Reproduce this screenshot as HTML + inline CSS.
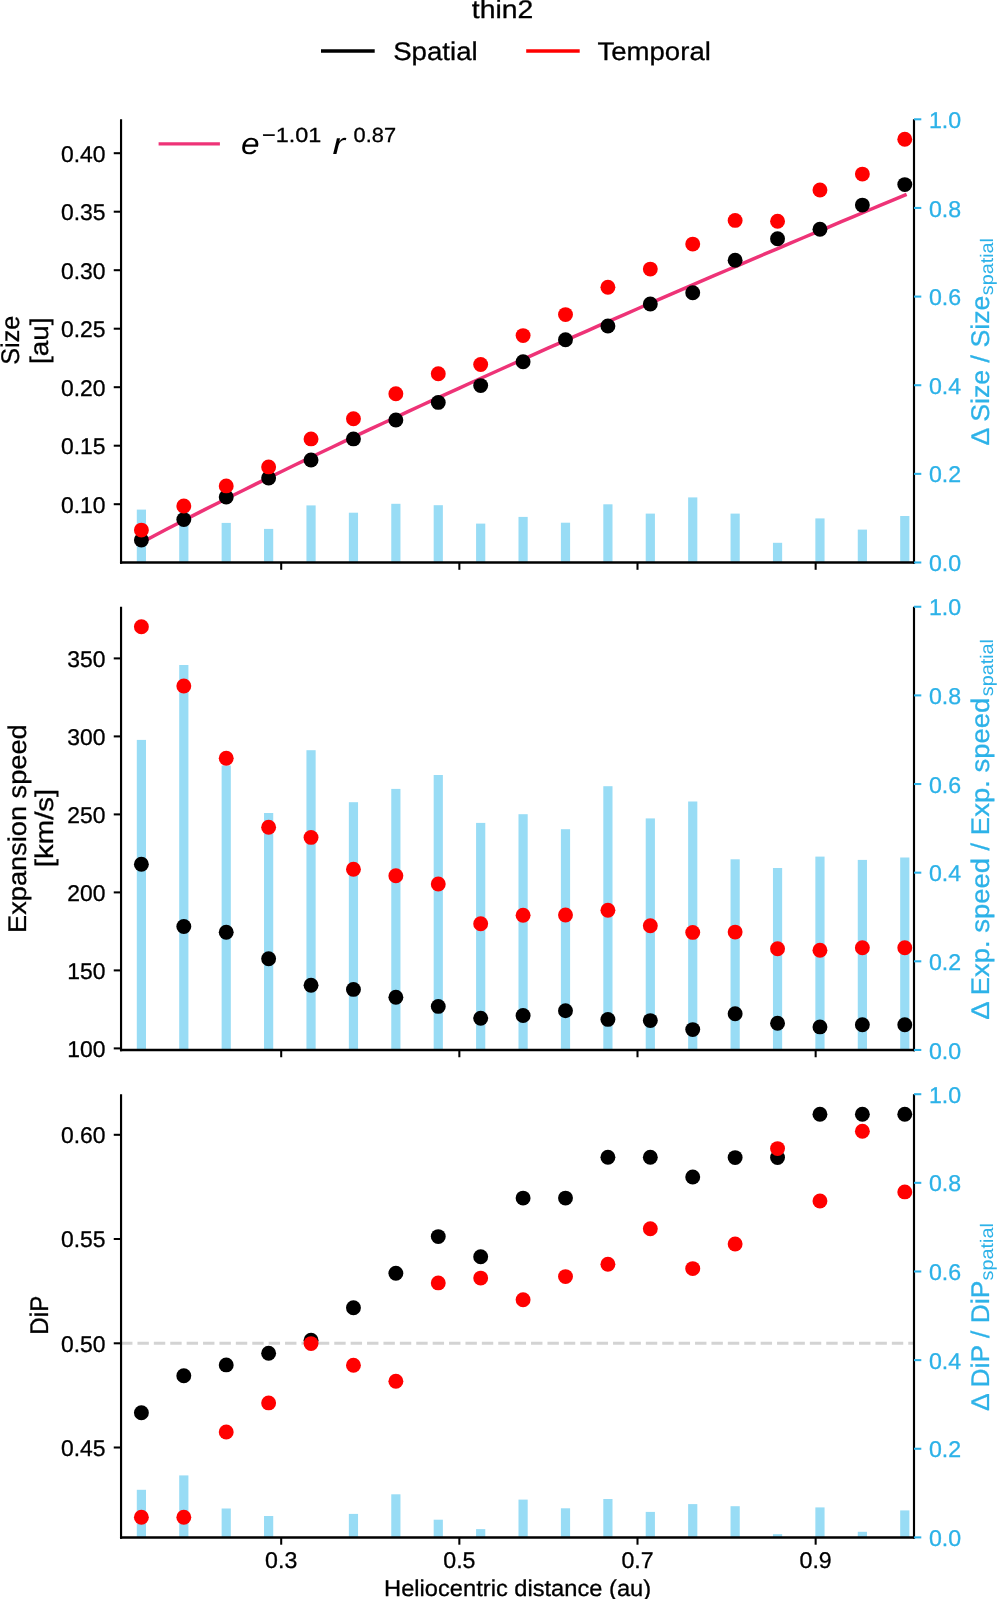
<!DOCTYPE html>
<html lang="en"><head><meta charset="utf-8"><title>thin2</title>
<style>
html,body{margin:0;padding:0;background:#fff;}
body{width:997px;height:1599px;overflow:hidden;}
svg{display:block;will-change:transform;}
text{font-family:"Liberation Sans",sans-serif;text-rendering:geometricPrecision;}
.tk{font-size:22.80px;fill:#000;stroke:#000;stroke-width:0.3px;}
.tkc{font-size:22.80px;fill:#2db2e8;stroke:#2db2e8;stroke-width:0.3px;}
.lab{font-size:25.50px;fill:#000;stroke:#000;stroke-width:0.3px;}
.labc{font-size:25.50px;fill:#2db2e8;stroke:#2db2e8;stroke-width:0.3px;}
</style></head><body>
<svg width="997" height="1599" viewBox="0 0 997 1599">
<rect x="0" y="0" width="997" height="1599" fill="#ffffff"/>
<g id="header">
<text class="lab" x="502.6" y="18.3" text-anchor="middle" textLength="61.5" lengthAdjust="spacingAndGlyphs">thin2</text>
<line x1="321.0" y1="51.05" x2="374.7" y2="51.05" stroke="#000" stroke-width="3.6"/>
<text class="lab" x="393.2" y="59.8" textLength="84.5" lengthAdjust="spacingAndGlyphs">Spatial</text>
<line x1="526.2" y1="51.05" x2="579.7" y2="51.05" stroke="#ff0000" stroke-width="3.6"/>
<text class="lab" x="597.4" y="59.8" textLength="113.5" lengthAdjust="spacingAndGlyphs">Temporal</text>
</g>
<g id="panel1">
<g fill="#98dcf5">
<rect x="136.80" y="509.60" width="9.20" height="52.90"/>
<rect x="179.21" y="503.00" width="9.20" height="59.50"/>
<rect x="221.62" y="522.90" width="9.20" height="39.60"/>
<rect x="264.03" y="528.90" width="9.20" height="33.60"/>
<rect x="306.44" y="505.40" width="9.20" height="57.10"/>
<rect x="348.85" y="512.70" width="9.20" height="49.80"/>
<rect x="391.26" y="503.80" width="9.20" height="58.70"/>
<rect x="433.67" y="505.20" width="9.20" height="57.30"/>
<rect x="476.08" y="523.60" width="9.20" height="38.90"/>
<rect x="518.49" y="516.90" width="9.20" height="45.60"/>
<rect x="560.90" y="522.70" width="9.20" height="39.80"/>
<rect x="603.31" y="504.30" width="9.20" height="58.20"/>
<rect x="645.72" y="513.60" width="9.20" height="48.90"/>
<rect x="688.13" y="497.40" width="9.20" height="65.10"/>
<rect x="730.54" y="513.60" width="9.20" height="48.90"/>
<rect x="772.95" y="542.80" width="9.20" height="19.70"/>
<rect x="815.36" y="518.40" width="9.20" height="44.10"/>
<rect x="857.77" y="529.60" width="9.20" height="32.90"/>
<rect x="900.18" y="516.00" width="9.20" height="46.50"/>
</g>
<polyline fill="none" stroke="#ee3377" stroke-width="3.5" stroke-linecap="square" points="141.04,542.80 153.77,536.02 166.50,529.32 179.24,522.70 191.97,516.14 204.70,509.64 217.44,503.20 230.17,496.80 242.90,490.46 255.63,484.17 268.37,477.91 281.10,471.70 293.83,465.52 306.57,459.39 319.30,453.28 332.03,447.21 344.76,441.17 357.50,435.16 370.23,429.18 382.96,423.23 395.70,417.30 408.43,411.40 421.16,405.53 433.89,399.68 446.63,393.85 459.36,388.04 472.09,382.26 484.83,376.49 497.56,370.75 510.29,365.02 523.02,359.32 535.76,353.63 548.49,347.96 561.22,342.31 573.96,336.68 586.69,331.06 599.42,325.46 612.15,319.87 624.89,314.30 637.62,308.75 650.35,303.21 663.09,297.68 675.82,292.17 688.55,286.67 701.28,281.19 714.02,275.72 726.75,270.26 739.48,264.81 752.22,259.38 764.95,253.96 777.68,248.55 790.41,243.15 803.15,237.76 815.88,232.39 828.61,227.02 841.35,221.67 854.08,216.33 866.81,211.00 879.54,205.68 892.28,200.37 905.01,195.06"/>
<g fill="#000000">
<circle cx="141.40" cy="540.00" r="7.45"/>
<circle cx="183.81" cy="519.60" r="7.45"/>
<circle cx="226.22" cy="497.00" r="7.45"/>
<circle cx="268.63" cy="478.00" r="7.45"/>
<circle cx="311.04" cy="460.00" r="7.45"/>
<circle cx="353.45" cy="438.90" r="7.45"/>
<circle cx="395.86" cy="420.00" r="7.45"/>
<circle cx="438.27" cy="402.40" r="7.45"/>
<circle cx="480.68" cy="385.60" r="7.45"/>
<circle cx="523.09" cy="361.80" r="7.45"/>
<circle cx="565.50" cy="339.80" r="7.45"/>
<circle cx="607.91" cy="326.00" r="7.45"/>
<circle cx="650.32" cy="304.00" r="7.45"/>
<circle cx="692.73" cy="292.80" r="7.45"/>
<circle cx="735.14" cy="260.20" r="7.45"/>
<circle cx="777.55" cy="238.80" r="7.45"/>
<circle cx="819.96" cy="229.20" r="7.45"/>
<circle cx="862.37" cy="205.10" r="7.45"/>
<circle cx="904.78" cy="184.60" r="7.45"/>
</g>
<g fill="#ff0000">
<circle cx="141.40" cy="530.10" r="7.45"/>
<circle cx="183.81" cy="506.00" r="7.45"/>
<circle cx="226.22" cy="485.90" r="7.45"/>
<circle cx="268.63" cy="466.90" r="7.45"/>
<circle cx="311.04" cy="438.90" r="7.45"/>
<circle cx="353.45" cy="418.80" r="7.45"/>
<circle cx="395.86" cy="393.80" r="7.45"/>
<circle cx="438.27" cy="373.80" r="7.45"/>
<circle cx="480.68" cy="364.50" r="7.45"/>
<circle cx="523.09" cy="335.60" r="7.45"/>
<circle cx="565.50" cy="314.60" r="7.45"/>
<circle cx="607.91" cy="287.20" r="7.45"/>
<circle cx="650.32" cy="269.10" r="7.45"/>
<circle cx="692.73" cy="244.10" r="7.45"/>
<circle cx="735.14" cy="220.40" r="7.45"/>
<circle cx="777.55" cy="221.30" r="7.45"/>
<circle cx="819.96" cy="190.00" r="7.45"/>
<circle cx="862.37" cy="174.10" r="7.45"/>
<circle cx="904.78" cy="139.20" r="7.45"/>
</g>
<g stroke="#000" stroke-width="2.05">
<line x1="113.75" y1="153.20" x2="121.05" y2="153.20"/>
<line x1="113.75" y1="211.70" x2="121.05" y2="211.70"/>
<line x1="113.75" y1="270.20" x2="121.05" y2="270.20"/>
<line x1="113.75" y1="328.70" x2="121.05" y2="328.70"/>
<line x1="113.75" y1="387.20" x2="121.05" y2="387.20"/>
<line x1="113.75" y1="445.70" x2="121.05" y2="445.70"/>
<line x1="113.75" y1="504.20" x2="121.05" y2="504.20"/>
<line x1="281.20" y1="562.50" x2="281.20" y2="569.80"/>
<line x1="459.35" y1="562.50" x2="459.35" y2="569.80"/>
<line x1="637.50" y1="562.50" x2="637.50" y2="569.80"/>
<line x1="815.65" y1="562.50" x2="815.65" y2="569.80"/>
</g>
<path d="M121.05 119.30 V563.75 M914.00 119.30 V563.75" fill="none" stroke="#000" stroke-width="2.15" stroke-linecap="butt"/>
<path d="M119.97 562.50 H915.08" fill="none" stroke="#000" stroke-width="2.5" stroke-linecap="butt"/>
<g stroke="#2db2e8" stroke-width="2.05">
<line x1="914.00" y1="562.50" x2="921.30" y2="562.50"/>
<line x1="914.00" y1="473.86" x2="921.30" y2="473.86"/>
<line x1="914.00" y1="385.22" x2="921.30" y2="385.22"/>
<line x1="914.00" y1="296.58" x2="921.30" y2="296.58"/>
<line x1="914.00" y1="207.94" x2="921.30" y2="207.94"/>
<line x1="914.00" y1="119.30" x2="921.30" y2="119.30"/>
</g>
<text class="tk" x="105.50" y="161.50" text-anchor="end" textLength="44.6" lengthAdjust="spacingAndGlyphs">0.40</text>
<text class="tk" x="105.50" y="220.00" text-anchor="end" textLength="44.6" lengthAdjust="spacingAndGlyphs">0.35</text>
<text class="tk" x="105.50" y="278.50" text-anchor="end" textLength="44.6" lengthAdjust="spacingAndGlyphs">0.30</text>
<text class="tk" x="105.50" y="337.00" text-anchor="end" textLength="44.6" lengthAdjust="spacingAndGlyphs">0.25</text>
<text class="tk" x="105.50" y="395.50" text-anchor="end" textLength="44.6" lengthAdjust="spacingAndGlyphs">0.20</text>
<text class="tk" x="105.50" y="454.00" text-anchor="end" textLength="44.6" lengthAdjust="spacingAndGlyphs">0.15</text>
<text class="tk" x="105.50" y="512.50" text-anchor="end" textLength="44.6" lengthAdjust="spacingAndGlyphs">0.10</text>
<text class="tkc" x="928.90" y="571.10" textLength="32.2" lengthAdjust="spacingAndGlyphs">0.0</text>
<text class="tkc" x="928.90" y="482.46" textLength="32.2" lengthAdjust="spacingAndGlyphs">0.2</text>
<text class="tkc" x="928.90" y="393.82" textLength="32.2" lengthAdjust="spacingAndGlyphs">0.4</text>
<text class="tkc" x="928.90" y="305.18" textLength="32.2" lengthAdjust="spacingAndGlyphs">0.6</text>
<text class="tkc" x="928.90" y="216.54" textLength="32.2" lengthAdjust="spacingAndGlyphs">0.8</text>
<text class="tkc" x="928.90" y="127.90" textLength="32.2" lengthAdjust="spacingAndGlyphs">1.0</text>
</g>
<g id="panel2">
<g fill="#98dcf5">
<rect x="136.80" y="739.90" width="9.20" height="310.05"/>
<rect x="179.21" y="665.00" width="9.20" height="384.95"/>
<rect x="221.62" y="765.50" width="9.20" height="284.45"/>
<rect x="264.03" y="813.00" width="9.20" height="236.95"/>
<rect x="306.44" y="750.20" width="9.20" height="299.75"/>
<rect x="348.85" y="802.20" width="9.20" height="247.75"/>
<rect x="391.26" y="788.90" width="9.20" height="261.05"/>
<rect x="433.67" y="775.00" width="9.20" height="274.95"/>
<rect x="476.08" y="822.90" width="9.20" height="227.05"/>
<rect x="518.49" y="814.20" width="9.20" height="235.75"/>
<rect x="560.90" y="829.20" width="9.20" height="220.75"/>
<rect x="603.31" y="786.20" width="9.20" height="263.75"/>
<rect x="645.72" y="818.40" width="9.20" height="231.55"/>
<rect x="688.13" y="801.50" width="9.20" height="248.45"/>
<rect x="730.54" y="859.30" width="9.20" height="190.65"/>
<rect x="772.95" y="868.00" width="9.20" height="181.95"/>
<rect x="815.36" y="856.60" width="9.20" height="193.35"/>
<rect x="857.77" y="859.90" width="9.20" height="190.05"/>
<rect x="900.18" y="857.50" width="9.20" height="192.45"/>
</g>
<g fill="#000000">
<circle cx="141.40" cy="864.20" r="7.45"/>
<circle cx="183.81" cy="926.50" r="7.45"/>
<circle cx="226.22" cy="932.20" r="7.45"/>
<circle cx="268.63" cy="958.70" r="7.45"/>
<circle cx="311.04" cy="985.20" r="7.45"/>
<circle cx="353.45" cy="989.40" r="7.45"/>
<circle cx="395.86" cy="997.20" r="7.45"/>
<circle cx="438.27" cy="1006.40" r="7.45"/>
<circle cx="480.68" cy="1018.20" r="7.45"/>
<circle cx="523.09" cy="1015.50" r="7.45"/>
<circle cx="565.50" cy="1010.70" r="7.45"/>
<circle cx="607.91" cy="1019.40" r="7.45"/>
<circle cx="650.32" cy="1020.60" r="7.45"/>
<circle cx="692.73" cy="1029.60" r="7.45"/>
<circle cx="735.14" cy="1013.70" r="7.45"/>
<circle cx="777.55" cy="1023.30" r="7.45"/>
<circle cx="819.96" cy="1026.90" r="7.45"/>
<circle cx="862.37" cy="1024.80" r="7.45"/>
<circle cx="904.78" cy="1024.80" r="7.45"/>
</g>
<g fill="#ff0000">
<circle cx="141.40" cy="626.80" r="7.45"/>
<circle cx="183.81" cy="686.00" r="7.45"/>
<circle cx="226.22" cy="758.30" r="7.45"/>
<circle cx="268.63" cy="827.20" r="7.45"/>
<circle cx="311.04" cy="837.40" r="7.45"/>
<circle cx="353.45" cy="869.30" r="7.45"/>
<circle cx="395.86" cy="875.70" r="7.45"/>
<circle cx="438.27" cy="884.00" r="7.45"/>
<circle cx="480.68" cy="923.70" r="7.45"/>
<circle cx="523.09" cy="915.30" r="7.45"/>
<circle cx="565.50" cy="915.00" r="7.45"/>
<circle cx="607.91" cy="910.20" r="7.45"/>
<circle cx="650.32" cy="925.80" r="7.45"/>
<circle cx="692.73" cy="932.40" r="7.45"/>
<circle cx="735.14" cy="932.10" r="7.45"/>
<circle cx="777.55" cy="948.70" r="7.45"/>
<circle cx="819.96" cy="950.20" r="7.45"/>
<circle cx="862.37" cy="947.80" r="7.45"/>
<circle cx="904.78" cy="947.80" r="7.45"/>
</g>
<g stroke="#000" stroke-width="2.05">
<line x1="113.75" y1="658.40" x2="121.05" y2="658.40"/>
<line x1="113.75" y1="736.40" x2="121.05" y2="736.40"/>
<line x1="113.75" y1="814.40" x2="121.05" y2="814.40"/>
<line x1="113.75" y1="892.40" x2="121.05" y2="892.40"/>
<line x1="113.75" y1="970.40" x2="121.05" y2="970.40"/>
<line x1="113.75" y1="1048.40" x2="121.05" y2="1048.40"/>
<line x1="281.20" y1="1049.95" x2="281.20" y2="1057.25"/>
<line x1="459.35" y1="1049.95" x2="459.35" y2="1057.25"/>
<line x1="637.50" y1="1049.95" x2="637.50" y2="1057.25"/>
<line x1="815.65" y1="1049.95" x2="815.65" y2="1057.25"/>
</g>
<path d="M121.05 606.75 V1051.20 M914.00 606.75 V1051.20" fill="none" stroke="#000" stroke-width="2.15" stroke-linecap="butt"/>
<path d="M119.97 1049.95 H915.08" fill="none" stroke="#000" stroke-width="2.5" stroke-linecap="butt"/>
<g stroke="#2db2e8" stroke-width="2.05">
<line x1="914.00" y1="1049.95" x2="921.30" y2="1049.95"/>
<line x1="914.00" y1="961.31" x2="921.30" y2="961.31"/>
<line x1="914.00" y1="872.67" x2="921.30" y2="872.67"/>
<line x1="914.00" y1="784.03" x2="921.30" y2="784.03"/>
<line x1="914.00" y1="695.39" x2="921.30" y2="695.39"/>
<line x1="914.00" y1="606.75" x2="921.30" y2="606.75"/>
</g>
<text class="tk" x="105.50" y="666.70" text-anchor="end" textLength="38.2" lengthAdjust="spacingAndGlyphs">350</text>
<text class="tk" x="105.50" y="744.70" text-anchor="end" textLength="38.2" lengthAdjust="spacingAndGlyphs">300</text>
<text class="tk" x="105.50" y="822.70" text-anchor="end" textLength="38.2" lengthAdjust="spacingAndGlyphs">250</text>
<text class="tk" x="105.50" y="900.70" text-anchor="end" textLength="38.2" lengthAdjust="spacingAndGlyphs">200</text>
<text class="tk" x="105.50" y="978.70" text-anchor="end" textLength="38.2" lengthAdjust="spacingAndGlyphs">150</text>
<text class="tk" x="105.50" y="1056.70" text-anchor="end" textLength="38.2" lengthAdjust="spacingAndGlyphs">100</text>
<text class="tkc" x="928.90" y="1058.55" textLength="32.2" lengthAdjust="spacingAndGlyphs">0.0</text>
<text class="tkc" x="928.90" y="969.91" textLength="32.2" lengthAdjust="spacingAndGlyphs">0.2</text>
<text class="tkc" x="928.90" y="881.27" textLength="32.2" lengthAdjust="spacingAndGlyphs">0.4</text>
<text class="tkc" x="928.90" y="792.63" textLength="32.2" lengthAdjust="spacingAndGlyphs">0.6</text>
<text class="tkc" x="928.90" y="703.99" textLength="32.2" lengthAdjust="spacingAndGlyphs">0.8</text>
<text class="tkc" x="928.90" y="615.35" textLength="32.2" lengthAdjust="spacingAndGlyphs">1.0</text>
</g>
<g id="panel3">
<g fill="#98dcf5">
<rect x="136.80" y="1489.80" width="9.20" height="47.60"/>
<rect x="179.21" y="1475.40" width="9.20" height="62.00"/>
<rect x="221.62" y="1508.50" width="9.20" height="28.90"/>
<rect x="264.03" y="1516.00" width="9.20" height="21.40"/>
<rect x="348.85" y="1513.90" width="9.20" height="23.50"/>
<rect x="391.26" y="1494.30" width="9.20" height="43.10"/>
<rect x="433.67" y="1519.70" width="9.20" height="17.70"/>
<rect x="476.08" y="1529.10" width="9.20" height="8.30"/>
<rect x="518.49" y="1499.60" width="9.20" height="37.80"/>
<rect x="560.90" y="1508.30" width="9.20" height="29.10"/>
<rect x="603.31" y="1499.00" width="9.20" height="38.40"/>
<rect x="645.72" y="1511.90" width="9.20" height="25.50"/>
<rect x="688.13" y="1504.10" width="9.20" height="33.30"/>
<rect x="730.54" y="1506.20" width="9.20" height="31.20"/>
<rect x="772.95" y="1534.20" width="9.20" height="3.20"/>
<rect x="815.36" y="1507.40" width="9.20" height="30.00"/>
<rect x="857.77" y="1531.80" width="9.20" height="5.60"/>
<rect x="900.18" y="1510.40" width="9.20" height="27.00"/>
</g>
<g fill="#000000">
<circle cx="141.40" cy="1412.80" r="7.45"/>
<circle cx="183.81" cy="1375.80" r="7.45"/>
<circle cx="226.22" cy="1364.90" r="7.45"/>
<circle cx="268.63" cy="1353.20" r="7.45"/>
<circle cx="311.04" cy="1340.30" r="7.45"/>
<circle cx="353.45" cy="1307.80" r="7.45"/>
<circle cx="395.86" cy="1273.20" r="7.45"/>
<circle cx="438.27" cy="1236.60" r="7.45"/>
<circle cx="480.68" cy="1256.80" r="7.45"/>
<circle cx="523.09" cy="1198.10" r="7.45"/>
<circle cx="565.50" cy="1198.10" r="7.45"/>
<circle cx="607.91" cy="1157.20" r="7.45"/>
<circle cx="650.32" cy="1157.20" r="7.45"/>
<circle cx="692.73" cy="1177.00" r="7.45"/>
<circle cx="735.14" cy="1157.60" r="7.45"/>
<circle cx="777.55" cy="1157.60" r="7.45"/>
<circle cx="819.96" cy="1114.30" r="7.45"/>
<circle cx="862.37" cy="1114.30" r="7.45"/>
<circle cx="904.78" cy="1114.30" r="7.45"/>
</g>
<line x1="121.05" y1="1343.3" x2="914.00" y2="1343.3" stroke="#d3d3d3" stroke-width="3.1" stroke-dasharray="11.4 5"/>
<g fill="#ff0000">
<circle cx="141.40" cy="1517.20" r="7.45"/>
<circle cx="183.81" cy="1517.20" r="7.45"/>
<circle cx="226.22" cy="1432.00" r="7.45"/>
<circle cx="268.63" cy="1402.90" r="7.45"/>
<circle cx="311.04" cy="1343.60" r="7.45"/>
<circle cx="353.45" cy="1365.20" r="7.45"/>
<circle cx="395.86" cy="1381.20" r="7.45"/>
<circle cx="438.27" cy="1282.90" r="7.45"/>
<circle cx="480.68" cy="1278.10" r="7.45"/>
<circle cx="523.09" cy="1299.80" r="7.45"/>
<circle cx="565.50" cy="1276.60" r="7.45"/>
<circle cx="607.91" cy="1264.30" r="7.45"/>
<circle cx="650.32" cy="1228.80" r="7.45"/>
<circle cx="692.73" cy="1268.60" r="7.45"/>
<circle cx="735.14" cy="1244.00" r="7.45"/>
<circle cx="777.55" cy="1148.60" r="7.45"/>
<circle cx="819.96" cy="1201.00" r="7.45"/>
<circle cx="862.37" cy="1131.20" r="7.45"/>
<circle cx="904.78" cy="1191.90" r="7.45"/>
</g>
<g stroke="#000" stroke-width="2.05">
<line x1="113.75" y1="1134.80" x2="121.05" y2="1134.80"/>
<line x1="113.75" y1="1239.00" x2="121.05" y2="1239.00"/>
<line x1="113.75" y1="1343.30" x2="121.05" y2="1343.30"/>
<line x1="113.75" y1="1447.50" x2="121.05" y2="1447.50"/>
<line x1="281.20" y1="1537.40" x2="281.20" y2="1544.70"/>
<line x1="459.35" y1="1537.40" x2="459.35" y2="1544.70"/>
<line x1="637.50" y1="1537.40" x2="637.50" y2="1544.70"/>
<line x1="815.65" y1="1537.40" x2="815.65" y2="1544.70"/>
</g>
<path d="M121.05 1094.20 V1538.65 M914.00 1094.20 V1538.65" fill="none" stroke="#000" stroke-width="2.15" stroke-linecap="butt"/>
<path d="M119.97 1537.40 H915.08" fill="none" stroke="#000" stroke-width="2.5" stroke-linecap="butt"/>
<g stroke="#2db2e8" stroke-width="2.05">
<line x1="914.00" y1="1537.40" x2="921.30" y2="1537.40"/>
<line x1="914.00" y1="1448.76" x2="921.30" y2="1448.76"/>
<line x1="914.00" y1="1360.12" x2="921.30" y2="1360.12"/>
<line x1="914.00" y1="1271.48" x2="921.30" y2="1271.48"/>
<line x1="914.00" y1="1182.84" x2="921.30" y2="1182.84"/>
<line x1="914.00" y1="1094.20" x2="921.30" y2="1094.20"/>
</g>
<text class="tk" x="105.50" y="1143.10" text-anchor="end" textLength="44.6" lengthAdjust="spacingAndGlyphs">0.60</text>
<text class="tk" x="105.50" y="1247.30" text-anchor="end" textLength="44.6" lengthAdjust="spacingAndGlyphs">0.55</text>
<text class="tk" x="105.50" y="1351.60" text-anchor="end" textLength="44.6" lengthAdjust="spacingAndGlyphs">0.50</text>
<text class="tk" x="105.50" y="1455.80" text-anchor="end" textLength="44.6" lengthAdjust="spacingAndGlyphs">0.45</text>
<text class="tkc" x="928.90" y="1546.00" textLength="32.2" lengthAdjust="spacingAndGlyphs">0.0</text>
<text class="tkc" x="928.90" y="1457.36" textLength="32.2" lengthAdjust="spacingAndGlyphs">0.2</text>
<text class="tkc" x="928.90" y="1368.72" textLength="32.2" lengthAdjust="spacingAndGlyphs">0.4</text>
<text class="tkc" x="928.90" y="1280.08" textLength="32.2" lengthAdjust="spacingAndGlyphs">0.6</text>
<text class="tkc" x="928.90" y="1191.44" textLength="32.2" lengthAdjust="spacingAndGlyphs">0.8</text>
<text class="tkc" x="928.90" y="1102.80" textLength="32.2" lengthAdjust="spacingAndGlyphs">1.0</text>
</g>
<text class="tk" x="281.20" y="1568.3" text-anchor="middle" textLength="32.2" lengthAdjust="spacingAndGlyphs">0.3</text>
<text class="tk" x="459.35" y="1568.3" text-anchor="middle" textLength="32.2" lengthAdjust="spacingAndGlyphs">0.5</text>
<text class="tk" x="637.50" y="1568.3" text-anchor="middle" textLength="32.2" lengthAdjust="spacingAndGlyphs">0.7</text>
<text class="tk" x="815.65" y="1568.3" text-anchor="middle" textLength="32.2" lengthAdjust="spacingAndGlyphs">0.9</text>
<text class="tk" x="517.6" y="1595.6" text-anchor="middle" textLength="267" lengthAdjust="spacingAndGlyphs">Heliocentric distance (au)</text>
<line x1="158.6" y1="143.85" x2="219.9" y2="143.85" stroke="#ee3377" stroke-width="3.4"/>
<text x="241" y="153.6" style="font-size:30px;font-style:italic" textLength="18.6" lengthAdjust="spacingAndGlyphs">e</text>
<text x="262" y="142.3" style="font-size:20.4px;stroke:#000;stroke-width:0.3px" textLength="59.2" lengthAdjust="spacingAndGlyphs">−1.01</text>
<text x="332.5" y="153.6" style="font-size:30px;font-style:italic" textLength="12.6" lengthAdjust="spacingAndGlyphs">r</text>
<text x="353.6" y="142.3" style="font-size:20.4px;stroke:#000;stroke-width:0.3px" textLength="42.4" lengthAdjust="spacingAndGlyphs">0.87</text>
<text class="lab" transform="translate(19.00 340.20) rotate(-90)" text-anchor="middle" textLength="49.0" lengthAdjust="spacingAndGlyphs">Size</text>
<text class="lab" transform="translate(47.60 340.70) rotate(-90)" text-anchor="middle" textLength="46.5" lengthAdjust="spacingAndGlyphs">[au]</text>
<text class="lab" transform="translate(26.00 828.60) rotate(-90)" text-anchor="middle" textLength="208.6" lengthAdjust="spacingAndGlyphs">Expansion speed</text>
<text class="lab" transform="translate(52.90 828.00) rotate(-90)" text-anchor="middle" textLength="78.6" lengthAdjust="spacingAndGlyphs">[km/s]</text>
<text class="lab" transform="translate(47.50 1315.20) rotate(-90)" text-anchor="middle" textLength="39.0" lengthAdjust="spacingAndGlyphs">DiP</text>
<text class="labc" transform="translate(988.8 445.60) rotate(-90)" textLength="150.0" lengthAdjust="spacingAndGlyphs">Δ Size / Size</text>
<text transform="translate(992.9 295.20) rotate(-90)" style="font-size:18.2px;fill:#2db2e8" textLength="57.2" lengthAdjust="spacingAndGlyphs">spatial</text>
<text class="labc" transform="translate(988.8 1019.80) rotate(-90)" textLength="322.0" lengthAdjust="spacingAndGlyphs">Δ Exp. speed / Exp. speed</text>
<text transform="translate(992.9 696.20) rotate(-90)" style="font-size:18.2px;fill:#2db2e8" textLength="57.2" lengthAdjust="spacingAndGlyphs">spatial</text>
<text class="labc" transform="translate(988.8 1411.00) rotate(-90)" textLength="130.5" lengthAdjust="spacingAndGlyphs">Δ DiP / DiP</text>
<text transform="translate(992.9 1280.40) rotate(-90)" style="font-size:18.2px;fill:#2db2e8" textLength="57.2" lengthAdjust="spacingAndGlyphs">spatial</text>
</svg></body></html>
